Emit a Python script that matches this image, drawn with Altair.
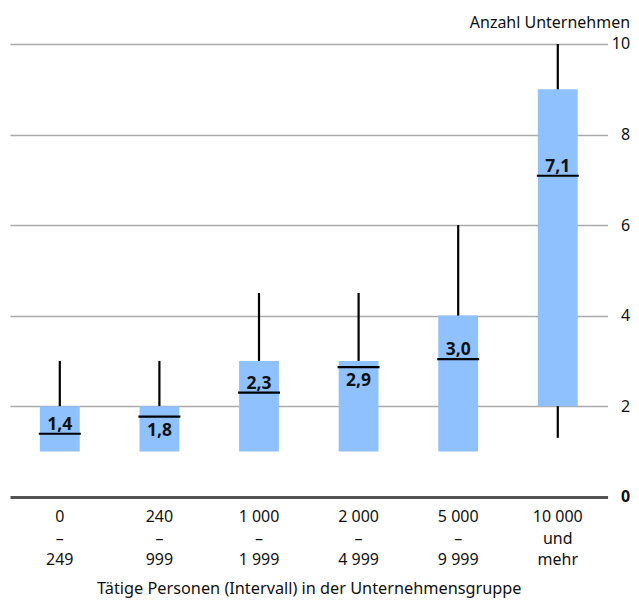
import altair as alt
import pandas as pd

# ---- data ----
categories = ["0|–|249", "240|–|999", "1 000|–|1 999", "2 000|–|4 999",
              "5 000|–|9 999", "10 000|und|mehr"]
box_low = [1, 1, 1, 1, 1, 2]
box_high = [2, 2, 3, 3, 4, 9]
whisker_low = [1, 1, 1, 1, 1, 1.3]
whisker_high = [3, 3, 4.5, 4.5, 6, 10]
mean_values = [1.39, 1.77, 2.3, 2.86, 3.04, 7.09]
y_ticks = [0, 2, 4, 6, 8, 10]

df = pd.DataFrame({
    "cat": categories,
    "q1": box_low,
    "q3": box_high,
    "lo": whisker_low,
    "hi": whisker_high,
    "mean": mean_values,
})
df["label"] = [f"{v:.1f}".replace(".", ",") for v in mean_values]
df["below"] = (df["q3"] - df["mean"]) < 0.5

FONT = "Noto Sans"
BAR = "#8fc1ff"

x_axis = alt.Axis(
    labelExpr="split(datum.label, '|')", labelAngle=0, domain=False, ticks=False,
    labelPadding=12, labelLineHeight=21.5, labelFontSize=16, labelColor="#111",
    labelFont=FONT,
    title="Tätige Personen (Intervall) in der Unternehmensgruppe",
    titleFont=FONT, titleFontSize=16.3, titleFontWeight="normal", titleColor="#111",
    titleBaseline="alphabetic", titleY=96.5,
)
x_scale = alt.Scale(paddingInner=0.6, paddingOuter=0.3)

y_scale = alt.Scale(domain=[0, 10], nice=False, zero=True)
y_axis = alt.Axis(
    orient="right", values=y_ticks, domain=False, ticks=False,
    labelAlign="right", labelPadding=22, labelFontSize=16, labelFont=FONT,
    labelColor="#111",
    labelFontWeight={"condition": {"test": "datum.value === 0", "value": "bold"}, "value": "normal"},
    grid=True,
    gridColor={"condition": {"test": "datum.value === 0", "value": "#555555"}, "value": "#aaaaaa"},
    gridWidth={"condition": {"test": "datum.value === 0", "value": 3}, "value": 1.3},
    title="Anzahl Unternehmen", titleAngle=0, titleAlign="right",
    titleBaseline="alphabetic", titleX=22, titleY=-16,
    titleFont=FONT, titleFontSize=16, titleFontWeight="normal", titleColor="#111",
)


def X():
    return alt.X("cat:N", sort=categories, scale=x_scale, axis=x_axis)


def Y(field):
    return alt.Y(field, scale=y_scale, axis=y_axis)


base = alt.Chart(df)

bars = base.mark_bar(color=BAR).encode(x=X(), y=Y("q1:Q"), y2="q3:Q")

upper = base.mark_rule(color="black", strokeWidth=2.2).encode(
    x=X(), y=Y("q3:Q"), y2="hi:Q")
lower = base.mark_rule(color="black", strokeWidth=2.2).encode(
    x=X(), y=Y("lo:Q"), y2="q1:Q")

ticks = base.mark_tick(color="black", thickness=2.2, size=42, opacity=1).encode(
    x=X(), y=Y("mean:Q"))

txt_above = base.transform_filter("!datum.below").mark_text(
    font=FONT, fontSize=17.5, fontWeight="bold", baseline="alphabetic", dy=-4, color="#111"
).encode(x=X(), y=Y("mean:Q"), text="label:N")

txt_below = base.transform_filter("datum.below").mark_text(
    font=FONT, fontSize=17.5, fontWeight="bold", baseline="top", dy=5, color="#111"
).encode(x=X(), y=Y("mean:Q"), text="label:N")

chart = alt.layer(bars, upper, lower, ticks, txt_above, txt_below).properties(
    width=597.6, height=452.7,
    autosize=alt.AutoSizeParams(type="none"),
    padding={"left": 2, "top": 36, "right": 23, "bottom": 101},
).configure(font=FONT).configure_view(stroke=None)

chart.save("out.html", embed_options={"renderer": "svg", "actions": False})
